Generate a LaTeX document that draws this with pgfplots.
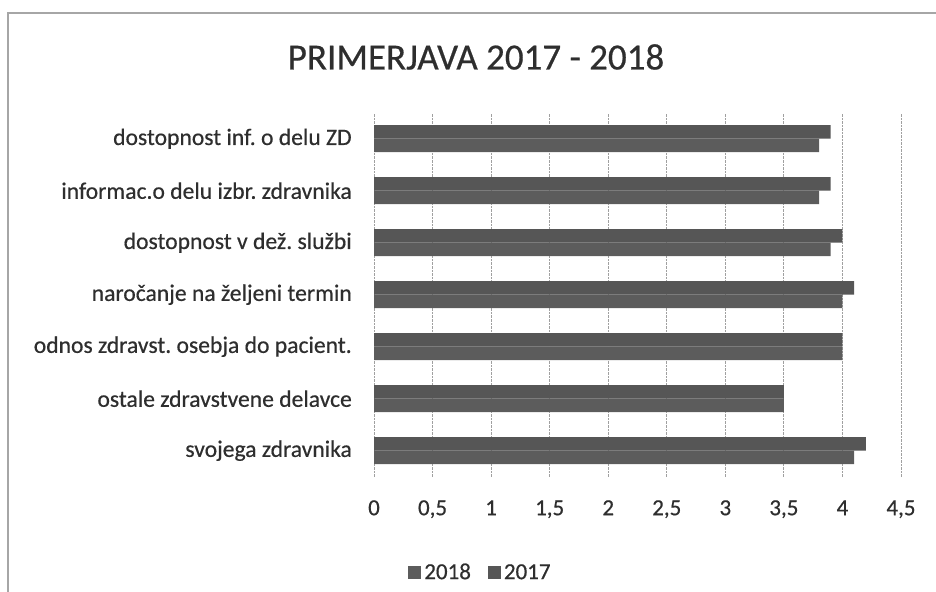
\documentclass[border=0pt]{standalone}
\usepackage{fontspec}
\setmainfont{Carlito}[FakeBold=0.5]
\usepackage{pgfplots}
\pgfplotsset{compat=1.18}
\definecolor{txt}{HTML}{2E2E2E}
\definecolor{barA}{HTML}{5C5C5C}
\definecolor{barB}{HTML}{565656}
\definecolor{gridc}{HTML}{A0A0A0}
\begin{document}
\frenchspacing
\begin{tikzpicture}
\useasboundingbox (0,0) rectangle (936bp,592bp);
\draw[gray!70, line width=1.3bp] (8bp,0) -- (8bp,579bp) -- (936bp,579bp);
\node[text=txt, font=\fontsize{37bp}{40bp}\selectfont] at (476bp,535bp) {PRIMERJAVA 2017 - 2018};
\begin{axis}[
  at={(374bp,115.3bp)}, anchor=south west,
  scale only axis, width=527bp, height=364bp,
  xbar=0pt, bar width=13.5bp,
  xmin=0, xmax=4.5, ymin=-0.5, ymax=6.5,
  xtick={0,0.5,...,4.5},
  ytick={0,1,2,3,4,5,6},
  yticklabels={svojega zdravnika, ostale  zdravstvene delavce, odnos zdravst. osebja do pacient., naročanje na željeni termin, dostopnost v dež. službi, informac.o delu izbr. zdravnika, dostopnost inf. o delu ZD},
  /pgf/number format/assume math mode=true,
  /pgf/number format/use comma,
  axis line style={draw=none},
  major tick length=0pt,
  xmajorgrids, grid style={gridc, densely dotted, line width=0.8bp},
  ticklabel style={text=txt, font=\fontsize{23bp}{26bp}\selectfont},
  yticklabel style={inner sep=0pt, xshift=-22bp, font=\fontsize{23.6bp}{26bp}\selectfont},
  xticklabel style={inner sep=0pt, anchor=base, yshift=-38.5bp},
  legend columns=2,
  legend style={draw=none, at={(0.201,-0.262)}, anchor=center, font=\fontsize{23bp}{26bp}\selectfont, text=txt,
    nodes={inner sep=1bp, anchor=base west},
    /tikz/every odd column/.append style={column sep=2bp},
    /tikz/every even column/.append style={column sep=16bp}},
  legend image code/.code={\fill[#1,draw=none] (0bp,0bp) rectangle (13bp,13bp);},
]
\addplot[fill=barA, draw=none] coordinates {(4.1,0) (3.5,1) (4.0,2) (4.0,3) (3.9,4) (3.8,5) (3.8,6)};
\addplot[fill=barB, draw=none] coordinates {(4.2,0) (3.5,1) (4.0,2) (4.1,3) (4.0,4) (3.9,5) (3.9,6)};
\legend{2018,2017}
\end{axis}
\end{tikzpicture}
\end{document}
